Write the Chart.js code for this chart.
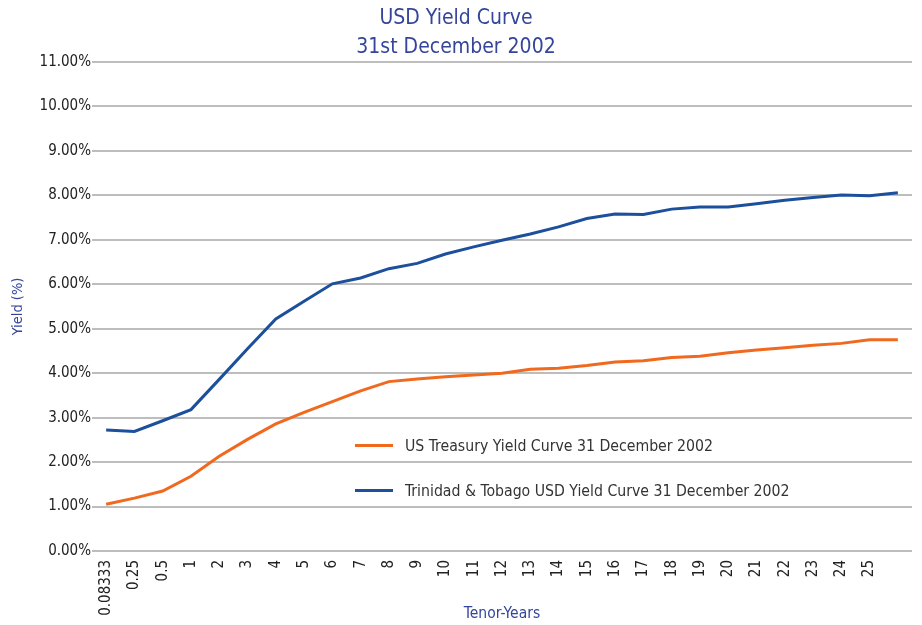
<!DOCTYPE html>
<html>
<head>
<meta charset="utf-8">
<title>USD Yield Curve</title>
<script src="https://cdn.jsdelivr.net/npm/chart.js@4.4.1/dist/chart.umd.min.js"></script>
<style>
    html, body { margin: 0; padding: 0; background: #fff; }
    #wrap { position: relative; width: 922px; height: 625px; }
    #legend {
        position: absolute; left: 355px; top: 423px;
        font-family: 'Liberation Sans Narrow', 'DejaVu Sans Condensed', 'Open Sans', sans-serif;
        font-size: 15.7px; color: #333;
    }
    #legend .item { display: flex; align-items: center; height: 45px; }
    #legend .swatch { width: 38px; height: 3px; margin-right: 12px; }
</style>
</head>
<body>
<div id="wrap">
    <canvas id="chart" width="922" height="625"></canvas>
    <div id="legend"></div>
</div>
<script>
// tenor labels (last point of the series has no label in the original)
var tenors = ['0.08333', '0.25', '0.5', '1', '2', '3', '4', '5', '6', '7', '8', '9', '10',
    '11', '12', '13', '14', '15', '16', '17', '18', '19', '20', '21', '22', '23', '24', '25', ''];

var usTreasury = [1.05, 1.19, 1.35, 1.68, 2.13, 2.51, 2.86, 3.12, 3.36, 3.60, 3.81, 3.87, 3.92,
    3.96, 4.00, 4.09, 4.11, 4.17, 4.25, 4.28, 4.35, 4.38, 4.46, 4.52, 4.57, 4.63, 4.67, 4.75, 4.75];

var ttUsd = [2.72, 2.69, 2.93, 3.18, 3.86, 4.55, 5.22, 5.62, 6.01, 6.14, 6.35, 6.47, 6.68,
    6.84, 6.99, 7.13, 7.29, 7.48, 7.58, 7.57, 7.69, 7.74, 7.74, 7.81, 7.89, 7.95, 8.01, 7.99, 8.06];

var seriesNames = ['US Treasury Yield Curve 31 December 2002', 'Trinidad & Tobago USD Yield Curve 31 December 2002'];
var seriesColors = ['#f0691f', '#1c4f9c'];

var FONT = "'Liberation Sans Narrow', 'DejaVu Sans Condensed', 'Open Sans', sans-serif";
var TITLE_BLUE = '#34459b';

var chart = new Chart(document.getElementById('chart'), {
    type: 'line',
    data: {
        labels: tenors,
        datasets: [
            { label: seriesNames[0], data: usTreasury, borderColor: seriesColors[0], borderWidth: 3, pointRadius: 0, tension: 0 },
            { label: seriesNames[1], data: ttUsd, borderColor: seriesColors[1], borderWidth: 3, pointRadius: 0, tension: 0 }
        ]
    },
    options: {
        responsive: false,
        animation: false,
        layout: { padding: { left: 0, right: 10, top: 0, bottom: 0 } },
        plugins: {
            legend: { display: false },
            tooltip: { enabled: false },
            title: {
                display: true,
                text: ['USD Yield Curve', '31st December 2002'],
                color: TITLE_BLUE,
                font: { family: FONT, size: 21, weight: 'normal', lineHeight: 1.38 },
                padding: { top: 4, bottom: 0 }
            }
        },
        scales: {
            x: {
                offset: true,
                grid: { display: false },
                border: { display: false },
                ticks: {
                    autoSkip: false,
                    maxRotation: 90,
                    minRotation: 90,
                    padding: 1,
                    color: '#222',
                    font: { family: FONT, size: 15 }
                },
                title: {
                    display: true,
                    text: 'Tenor-Years',
                    color: TITLE_BLUE,
                    font: { family: FONT, size: 15.5 },
                    padding: { top: 0, bottom: 2 }
                },
                afterFit: function(scale) { scale.height = 74; }
            },
            y: {
                min: 0,
                max: 11,
                grid: { color: '#bdbdbd', lineWidth: 2, drawTicks: false },
                border: { display: false },
                ticks: {
                    stepSize: 1,
                    padding: 1,
                    color: '#222',
                    font: { family: FONT, size: 15 },
                    callback: function(value) { return value.toFixed(2) + '%'; }
                },
                title: {
                    display: true,
                    text: 'Yield (%)',
                    color: TITLE_BLUE,
                    font: { family: FONT, size: 14.5 },
                    padding: { top: 10, bottom: 0 }
                },
                afterFit: function(scale) { scale.width = 92; }
            }
        }
    }
});

// legend drawn inside the plot area like the original
var legendEl = document.getElementById('legend');
chart.data.datasets.forEach(function(ds) {
    var item = document.createElement('div');
    item.className = 'item';
    var sw = document.createElement('span');
    sw.className = 'swatch';
    sw.style.background = ds.borderColor;
    var txt = document.createElement('span');
    txt.textContent = ds.label;
    item.appendChild(sw);
    item.appendChild(txt);
    legendEl.appendChild(item);
});
</script>
</body>
</html>
